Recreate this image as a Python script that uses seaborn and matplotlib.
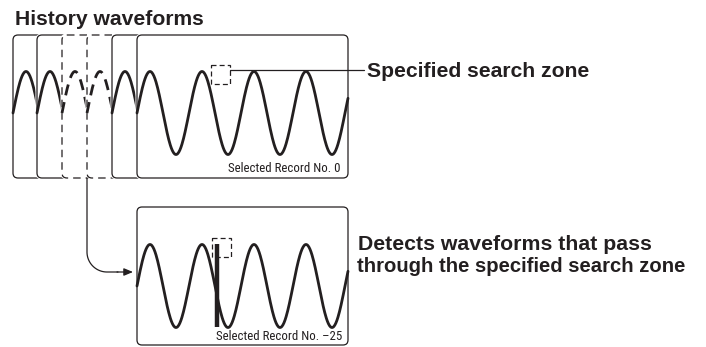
import numpy as np
import pandas as pd
import seaborn as sns
import matplotlib
import matplotlib.pyplot as plt
from matplotlib import font_manager
from matplotlib.patches import FancyBboxPatch, Rectangle

matplotlib.use("Agg")

# --- diagram content ---
title_text = "History waveforms"
zone_label = "Specified search zone"
detect_label = ["Detects waveforms that pass", "through the specified search zone"]
record_labels = ["Selected Record No. 0", "Selected Record No. \u201325"]

# history stack: left edge of each stacked record screen, and its border style
history_lefts = [13, 37, 62, 87, 112, 137]
history_styles = ["solid", "solid", "dashed", "dashed", "solid", "solid"]

# waveform shown on each screen (pixels)
wave_period = 52
wave_amp = 41.5
wave_cycles = 211 / 52

INK = "#231f20"

sns.set_style("white")
plt.rcParams["font.family"] = ["Liberation Sans", "DejaVu Sans"]

# look for a condensed sans face for the small record labels
narrow_file = None
for f in font_manager.fontManager.ttflist:
  fn = f.fname.lower()
  if ("narrow" in fn or "condensed" in fn) and "bold" not in fn and "italic" not in fn \
     and "oblique" not in fn and "mono" not in fn and "serif" not in fn:
    narrow_file = f.fname
    if "liberation" in fn:
      break
if narrow_file:
  narrow = dict(fontproperties=font_manager.FontProperties(fname=narrow_file, size=9.3))
else:
  narrow = dict(family=["Liberation Sans", "DejaVu Sans"], fontsize=8.2)

fig = plt.figure(figsize=(7.06, 3.47), dpi=100)
ax = fig.add_axes([0, 0, 1, 1])
ax.set_xlim(0, 706)
ax.set_ylim(347, 0)
ax.axis("off")

scr_w = 211


def wave_frame(x0):
  x = np.linspace(0, wave_cycles * wave_period, 400)
  return pd.DataFrame({"x": x0 + x, "phase": 2 * np.pi * x / wave_period})


def screen(left, top, bottom, style, z, center):
  h = bottom - top
  ls = (0, (6, 4)) if style == "dashed" else "-"
  cover = FancyBboxPatch((left, top), scr_w, h, boxstyle="round,pad=0,rounding_size=5",
                         fc="white", ec="white", lw=2.2, zorder=z)
  ax.add_patch(cover)
  df = wave_frame(left)
  df["y"] = center - wave_amp * np.sin(df["phase"])
  sns.lineplot(data=df, x="x", y="y", ax=ax, color=INK, lw=2.0, sort=False,
               estimator=None, linestyle=(0, (4, 2.5)) if style == "dashed" else "-",
               zorder=z + 1)
  border = FancyBboxPatch((left, top), scr_w, h, boxstyle="round,pad=0,rounding_size=5",
                          fc="none", ec=INK, lw=0.9, ls=ls, zorder=z + 2)
  ax.add_patch(border)


# top stack of history records
for i, (lx, st) in enumerate(zip(history_lefts, history_styles)):
  screen(lx, 35, 178, st, 10 * i, 113)

# bottom detected record
screen(137, 207, 345, "solid", 100, 286)

# detection spike in the bottom record
ax.plot([217, 217], [244, 327], color=INK, lw=3.2, solid_capstyle="butt", zorder=104)

# search zone boxes
for (bx, by) in [(211, 65), (212, 238)]:
  ax.add_patch(Rectangle((bx, by), 19, 18.5, fc="none", ec=INK, lw=0.9,
                         ls=(0, (4, 2.5)), zorder=105))

# leader line to zone label
ax.plot([230, 364], [69.5, 69.5], color=INK, lw=0.9, zorder=105)

# connector from history to detected record
t = np.linspace(0, np.pi / 2, 30)
cx = np.concatenate([[87, 87], 107 - 20 * np.cos(t), [118]])
cy = np.concatenate([[178, 252], 252 + 20 * np.sin(t), [272]])
ax.plot(cx, cy, color=INK, lw=0.9, zorder=105)
ax.annotate("", xy=(133, 272), xytext=(117, 272),
            arrowprops=dict(arrowstyle="-|>,head_length=0.6,head_width=0.25",
                            color=INK, lw=0.9, mutation_scale=9, shrinkA=0, shrinkB=0),
            zorder=105)

# texts
bold = dict(fontweight="bold", color=INK)
ax.text(15, 25, title_text, ha="left", va="baseline", fontsize=15.2, **bold)
ax.text(367, 77, zone_label, ha="left", va="baseline", fontsize=15.2, **bold)
ax.text(358, 250, detect_label[0], ha="left", va="baseline", fontsize=15.3, **bold)
ax.text(357, 272, detect_label[1], ha="left", va="baseline", fontsize=14.6, **bold)
ax.text(341, 171.5, record_labels[0], ha="right", va="baseline", color=INK,
        zorder=110, **narrow)
ax.text(342, 340.5, record_labels[1], ha="right", va="baseline", color=INK,
        zorder=110, **narrow)

fig.savefig("out.png", dpi=100)
